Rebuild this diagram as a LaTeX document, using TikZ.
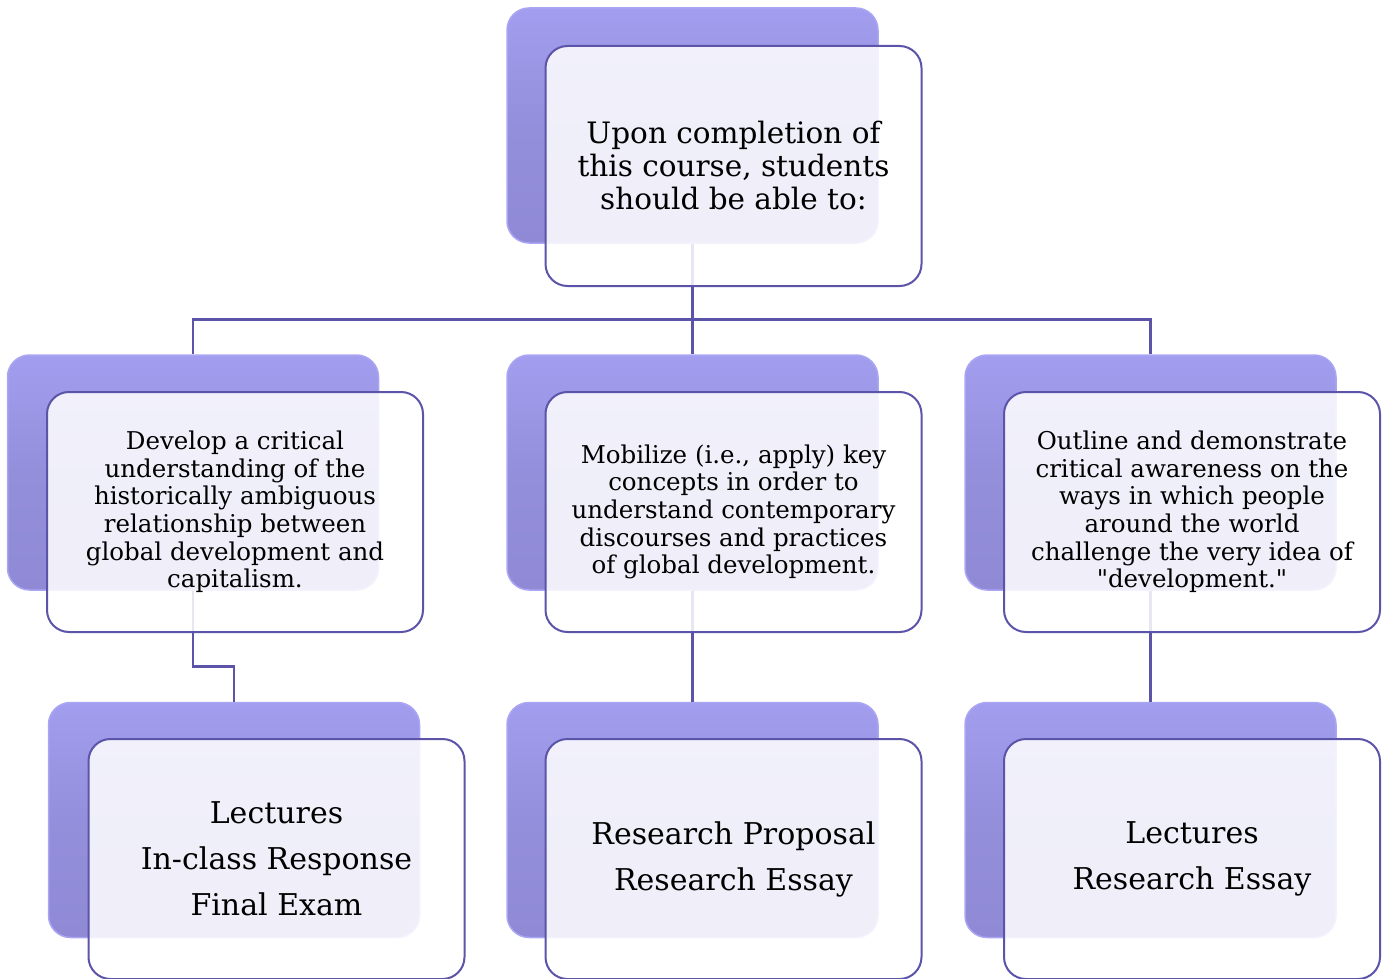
\documentclass[tikz,border=0pt]{standalone}
\usepackage{fontspec}
\setmainfont{DejaVu Serif}[Ligatures=TeXOff]
\definecolor{backtop}{HTML}{A29DEE}
\definecolor{backbot}{HTML}{8F89D6}
\definecolor{backedge}{HTML}{AAA6F4}
\definecolor{frontedge}{HTML}{5B54A8}
\definecolor{conncol}{HTML}{5B54A8}
\tikzset{
  backbox/.style={draw=backedge, line width=1.5pt, top color=backtop, bottom color=backbot, middle color=backfillmid, rounded corners=22pt, minimum width=371pt, minimum height=235pt, inner sep=0pt},
  frontbox/.style={draw=frontedge, line width=2pt, fill=white, fill opacity=0.86, text opacity=1, rounded corners=22pt, minimum width=376pt, minimum height=240pt, inner sep=0pt, align=center, text=black},
  conn/.style={draw=conncol, line width=2.6pt},
  toptext/.style={font=\fontsize{29.5}{33}\selectfont},
  midtext/.style={font=\fontsize{24.5}{27.6}\selectfont},
  lowtext/.style={font=\fontsize{30}{46}\selectfont}
}
\definecolor{backfillmid}{HTML}{948FDB}
\begin{document}
\begin{tikzpicture}[x=1pt,y=-1pt]
\useasboundingbox (0,0) rectangle (1382,979);
% back boxes
\node[backbox] (topb) at (692.5,125.5) {};
\node[backbox] (l2lb) at (193,472.5) {};
\node[backbox] (l2mb) at (692.5,472.5) {};
\node[backbox] (l2rb) at (1150.5,472.5) {};
\node[backbox] (l3lb) at (234,820) {};
\node[backbox] (l3mb) at (692.5,820) {};
\node[backbox] (l3rb) at (1150.5,820) {};
% connectors (behind front boxes)
\draw[conn] (topb.south) -- ++(0,76) -| (l2lb.north);
\draw[conn] (topb.south) -- (l2mb.north);
\draw[conn] (topb.south) -- ++(0,76) -| (l2rb.north);
\draw[conn] (l2lb.south) -- ++(0,76) -| (l3lb.north);
\draw[conn] (l2mb.south) -- (l3mb.north);
\draw[conn] (l2rb.south) -- (l3rb.north);
% front boxes
\node[frontbox, toptext] (topf) at (733.5,166) {Upon completion of\\this course, students\\should be able to:};
\node[frontbox, midtext] (l2lf) at (235,512) {Develop a critical\\understanding of the\\historically ambiguous\\relationship between\\global development and\\capitalism.};
\node[frontbox, midtext] (l2mf) at (733.5,512) {Mobilize (i.e., apply) key\\concepts in order to\\understand contemporary\\discourses and practices\\of global development.};
\node[frontbox, midtext] (l2rf) at (1192,512) {Outline and demonstrate\\critical awareness on the\\ways in which people\\around the world\\challenge the very idea of\\"development."};
\node[frontbox, lowtext] (l3lf) at (276.5,859) {Lectures\\In-class Response\\Final Exam};
\node[frontbox, lowtext] (l3mf) at (733.5,859) {Research Proposal\\Research Essay};
\node[frontbox, lowtext] (l3rf) at (1192,859) {Lectures\\Research Essay};
\end{tikzpicture}
\end{document}
